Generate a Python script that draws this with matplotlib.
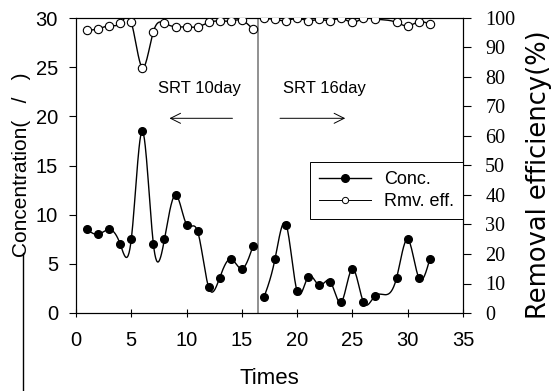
import numpy as np
import matplotlib
matplotlib.use("Agg")
import matplotlib.pyplot as plt
from matplotlib.lines import Line2D

# ---- data ----
conc_x1 = [1, 2, 3, 4, 5, 6, 7, 8, 9, 10, 11, 12, 13, 14, 15, 16]
conc_y1 = [8.5, 8.0, 8.5, 7.0, 7.5, 18.5, 7.0, 7.5, 12.0, 9.0, 8.3, 2.6, 3.6, 5.5, 4.5, 6.8]
conc_x2 = [17, 18, 19, 20, 21, 22, 23, 24, 25, 26, 27, 29, 30, 31, 32]
conc_y2 = [1.6, 5.5, 9.0, 2.2, 3.7, 2.8, 3.2, 1.1, 4.5, 1.1, 1.7, 3.6, 7.5, 3.6, 5.5]

eff_x1 = [1, 2, 3, 4, 5, 6, 7, 8, 9, 10, 11, 12, 13, 14, 15, 16]
eff_y1 = [95.9, 96.3, 97.4, 98.2, 98.5, 83.2, 95.4, 98.2, 97.0, 97.0, 97.0, 98.5, 99.0, 99.0, 99.2, 96.2]
eff_x2 = [17, 18, 19, 20, 21, 22, 23, 24, 25, 26, 27, 29, 30, 31, 32]
eff_y2 = [99.9, 99.5, 99.1, 99.9, 99.1, 99.5, 99.1, 99.9, 98.5, 99.9, 99.7, 98.5, 97.3, 98.7, 97.9]

x_ticks = [0, 5, 10, 15, 20, 25, 30, 35]
left_ticks = [0, 5, 10, 15, 20, 25, 30]
right_ticks = [0, 10, 20, 30, 40, 50, 60, 70, 80, 90, 100]
divider_x = 16.5


def smooth(x, y, n=400):
    """Natural cubic spline through the points (drawing path only)."""
    x = np.asarray(x, float)
    y = np.asarray(y, float)
    m = len(x)
    h = np.diff(x)
    A = np.zeros((m, m))
    b = np.zeros(m)
    A[0, 0] = A[-1, -1] = 1
    for i in range(1, m - 1):
        A[i, i - 1] = h[i - 1]
        A[i, i] = 2 * (h[i - 1] + h[i])
        A[i, i + 1] = h[i]
        b[i] = 6 * ((y[i + 1] - y[i]) / h[i] - (y[i] - y[i - 1]) / h[i - 1])
    M = np.linalg.solve(A, b)
    xs = np.linspace(x[0], x[-1], n)
    idx = np.clip(np.searchsorted(x, xs) - 1, 0, m - 2)
    x0, x1 = x[idx], x[idx + 1]
    hh = x1 - x0
    t0 = x1 - xs
    t1 = xs - x0
    ys = (M[idx] * t0 ** 3 + M[idx + 1] * t1 ** 3) / (6 * hh) \
        + (y[idx] / hh - M[idx] * hh / 6) * t0 \
        + (y[idx + 1] / hh - M[idx + 1] * hh / 6) * t1
    return xs, ys


sans = "Liberation Sans"
serif = "Liberation Serif"

fig = plt.figure(figsize=(5.52, 3.91), dpi=100)
ax = fig.add_axes([76 / 552, 1 - 313 / 391, 387 / 552, 295 / 391])
ax2 = ax.twinx()

# concentration
for xx, yy in [(conc_x1, conc_y1), (conc_x2, conc_y2)]:
    xs, ys = smooth(xx, yy)
    ax.plot(xs, ys, color="black", lw=1.0, zorder=3)
    ax.plot(xx, yy, "o", color="black", ms=5.5, zorder=4)

# removal efficiency
for xx, yy in [(eff_x1, eff_y1), (eff_x2, eff_y2)]:
    xs, ys = smooth(xx, yy)
    ax2.plot(xs, ys, color="black", lw=1.0, zorder=3)
    ax2.plot(xx, yy, "o", mfc="white", mec="black", mew=0.8, ms=6, zorder=4)

ax.axvline(divider_x, color="#888888", lw=1.3, zorder=2)

ax.set_xlim(0, 35)
ax.set_ylim(0, 30)
ax2.set_ylim(0, 100)
ax.set_xticks(x_ticks)
ax.set_yticks(left_ticks)
ax2.set_yticks(right_ticks)

for lab in ax.get_xticklabels() + ax.get_yticklabels():
    lab.set_fontfamily(sans)
    lab.set_fontsize(14.5)
for lab in ax2.get_yticklabels():
    lab.set_fontfamily(serif)
    lab.set_fontsize(14.5)

ax.tick_params(axis="x", direction="inout", length=6, width=0.8, pad=10)
ax.tick_params(axis="y", direction="out", length=5, width=0.8, pad=8)
ax2.tick_params(axis="y", direction="out", length=6, width=0.8, pad=10)
for a in (ax, ax2):
    for s in a.spines.values():
        s.set_linewidth(0.8)

ax.set_xlabel("Times", fontfamily=sans, fontsize=16, labelpad=13)
ax.set_ylabel("Concentration(   /   )", fontfamily=sans, fontsize=15)
ax2.set_ylabel("Removal efficiency(%)", fontfamily="DejaVu Sans", fontsize=18.5)
ax.yaxis.set_label_coords(-0.115, 0.503)
ax2.yaxis.set_label_coords(1.163, 0.47)

# annotations
ax.text(11.2, 22.8, "SRT 10day", fontfamily=sans, fontsize=12, ha="center", va="center")
ax.text(22.5, 22.8, "SRT 16day", fontfamily=sans, fontsize=12, ha="center", va="center")
ax.annotate("", xy=(8.2, 19.8), xytext=(14.4, 19.8),
            arrowprops=dict(arrowstyle="->", lw=0.7, color="black", mutation_scale=18))
ax.annotate("", xy=(24.6, 19.8), xytext=(18.2, 19.8),
            arrowprops=dict(arrowstyle="->", lw=0.7, color="black", mutation_scale=18))

handles = [
    Line2D([], [], color="black", lw=1.0, marker="o", ms=5.5, mfc="black"),
    Line2D([], [], color="black", lw=0.7, marker="o", ms=4.5, mfc="white", mec="black", mew=0.7),
]
leg = ax.legend(handles, ["Conc.", "Rmv. eff."], loc="upper right",
                bbox_to_anchor=(1.0, 0.512), borderaxespad=0,
                prop={"family": sans, "size": 13}, fancybox=False,
                framealpha=1, edgecolor="black", handlelength=2.9,
                handletextpad=0.7, borderpad=0.5, labelspacing=0.3)
leg.get_frame().set_linewidth(0.7)
leg.set_zorder(10)

# stray vertical line below the left axis label
fig.add_artist(Line2D([23 / 552, 23 / 552], [1 - 253 / 391, 0.0], color="black", lw=1.0))

fig.savefig("out.png", dpi=100)
